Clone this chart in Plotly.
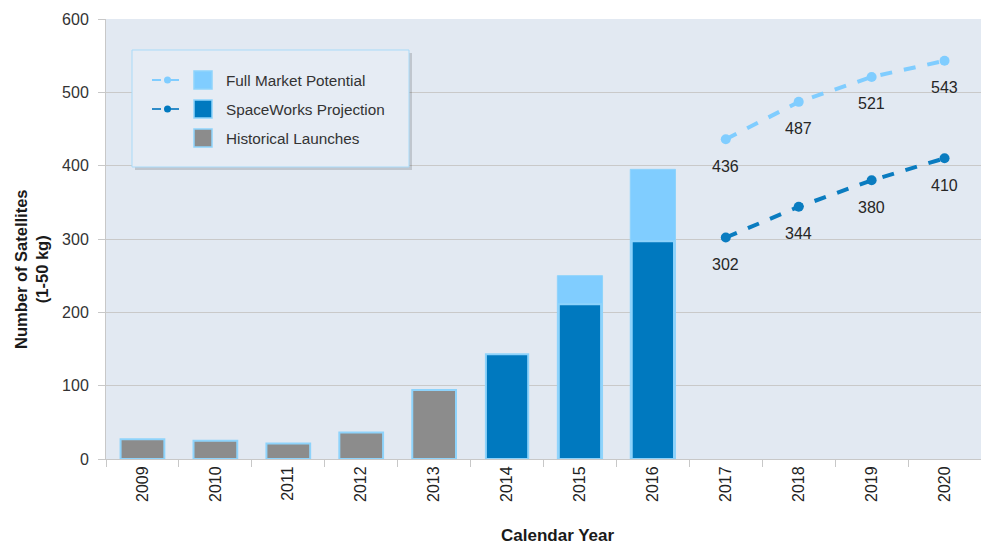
import plotly.graph_objects as go

# ---------------- data ----------------
years = ['2009', '2010', '2011', '2012', '2013', '2014', '2015', '2016',
         '2017', '2018', '2019', '2020']
hist_years = ['2009', '2010', '2011', '2012', '2013']
historical = [27, 25, 21, 36, 94]
proj_bar_years = ['2014', '2015', '2016']
projection_bars = [143, 211, 297]
full_bar_years = ['2015', '2016']
full_market_bars = [250, 395]
line_years = ['2017', '2018', '2019', '2020']
projection_line = [302, 344, 380, 410]
full_market_line = [436, 487, 521, 543]

# ---------------- styles ----------------
GRAY = '#8C8C8C'
DARK = '#0079BF'
LIGHT = '#80CDFF'
EDGE = '#8ED3FB'
FONT = 'Liberation Sans, Arial, sans-serif'

L, R, T, B = 106, 981, 19, 459
W, H = 981, 545


def px(x):
    return (x - L) / (R - L)


def py(y):
    return (B - y) / (B - T)


fig = go.Figure()

fig.add_trace(go.Bar(x=full_bar_years, y=full_market_bars, width=0.62,
                     marker=dict(color=LIGHT, line=dict(color=EDGE, width=1)),
                     showlegend=False))
fig.add_trace(go.Bar(x=proj_bar_years, y=projection_bars, width=0.58,
                     marker=dict(color=DARK, line=dict(color=EDGE, width=2)),
                     showlegend=False))
fig.add_trace(go.Bar(x=hist_years, y=historical, width=0.6,
                     marker=dict(color=GRAY, line=dict(color=EDGE, width=2)),
                     showlegend=False))

fig.add_trace(go.Scatter(x=line_years, y=full_market_line, mode='lines+markers',
                         line=dict(color=LIGHT, width=4, dash='dash'),
                         marker=dict(size=10, color=LIGHT), showlegend=False))
fig.add_trace(go.Scatter(x=line_years, y=projection_line, mode='lines+markers',
                         line=dict(color='#0A7CC0', width=4, dash='dash'),
                         marker=dict(size=10, color='#0A7CC0'), showlegend=False))

annotations = []
for xv, yv in zip(line_years, full_market_line):
    annotations.append(dict(x=years.index(xv), y=yv, text=str(yv), showarrow=False,
                            yshift=-27, xref='x', yref='y',
                            font=dict(family=FONT, size=16, color='#262626')))
for xv, yv in zip(line_years, projection_line):
    annotations.append(dict(x=years.index(xv), y=yv, text=str(yv), showarrow=False,
                            yshift=-27, xref='x', yref='y',
                            font=dict(family=FONT, size=16, color='#262626')))

# axis titles
annotations.append(dict(xref='paper', yref='paper', x=px(31), y=py(269),
                        text='<b>Number of Satellites<br>(1-50 kg)</b>', textangle=-90,
                        showarrow=False, xanchor='center', yanchor='middle',
                        font=dict(family=FONT, size=16.5, color='#1a1a1a')))
annotations.append(dict(xref='paper', yref='paper', x=px(557), y=py(535),
                        text='<b>Calendar Year</b>', showarrow=False,
                        xanchor='center', yanchor='middle',
                        font=dict(family=FONT, size=17, color='#1a1a1a')))

# legend (manual)
shapes = []
shapes.append(dict(type='rect', xref='paper', yref='paper',
                   x0=px(135), x1=px(412), y0=py(170), y1=py(53),
                   fillcolor='rgba(0,0,0,0.15)', line=dict(width=0)))
shapes.append(dict(type='rect', xref='paper', yref='paper',
                   x0=px(132), x1=px(409), y0=py(167), y1=py(50),
                   fillcolor='#E6ECF4', line=dict(color='#A9DAF8', width=1)))
leg = [('Full Market Potential', LIGHT, True, 80),
       ('SpaceWorks Projection', DARK, True, 109),
       ('Historical Launches', GRAY, False, 138)]
for label, col, has_line, yy in leg:
    shapes.append(dict(type='rect', xref='paper', yref='paper',
                       x0=px(194), x1=px(212), y0=py(yy + 9), y1=py(yy - 9),
                       fillcolor=col, line=dict(color=EDGE, width=1.5)))
    if has_line:
        shapes.append(dict(type='line', xref='paper', yref='paper',
                           x0=px(152), x1=px(184), y0=py(yy), y1=py(yy),
                           line=dict(color=col if col != DARK else '#2F8CC8', width=2, dash='dash')))
        shapes.append(dict(type='circle', xref='paper', yref='paper',
                           x0=px(164), x1=px(171), y0=py(yy + 3.5), y1=py(yy - 3.5),
                           fillcolor=col, line=dict(color=col, width=0)))
    annotations.append(dict(xref='paper', yref='paper', x=px(224), y=py(yy),
                            text=label, showarrow=False, xanchor='left', yanchor='middle',
                            font=dict(family=FONT, size=15.3, color='#333333')))

fig.update_layout(
    width=W, height=H,
    margin=dict(l=L, r=W - R, t=T, b=H - B, pad=0),
    paper_bgcolor='white',
    plot_bgcolor='#E2E9F2',
    barmode='overlay',
    annotations=annotations,
    shapes=shapes,
    font=dict(family=FONT, color='#333333'),
)
fig.update_xaxes(type='category', categoryorder='array', categoryarray=years,
                 range=[-0.5, 11.5], tickangle=-90, tickson='boundaries',
                 ticks='outside', ticklen=7, tickcolor='#C8C8C8',
                 showline=True, linecolor='#C8C8C8', linewidth=1,
                 showgrid=False, tickfont=dict(family=FONT, size=16, color='#222222'))
fig.update_yaxes(range=[0, 600], dtick=100, ticks='outside', ticklen=7,
                 tickcolor='#C8C8C8', showline=True, linecolor='#C8C8C8', linewidth=1,
                 gridcolor='#C9C9C9', gridwidth=1, zeroline=False,
                 ticklabelstandoff=6,
                 tickfont=dict(family=FONT, size=16, color='#333333'))

fig.write_html('out.html')
